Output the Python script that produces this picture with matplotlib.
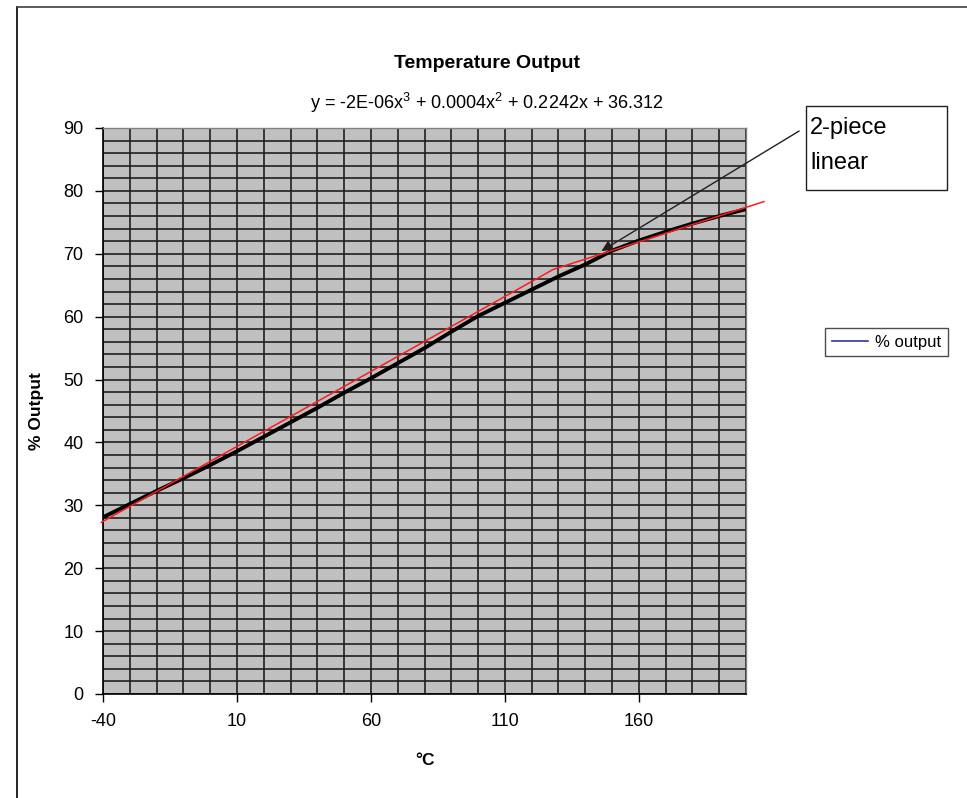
import matplotlib
matplotlib.use("Agg")
import matplotlib.pyplot as plt
from matplotlib.lines import Line2D
from matplotlib.ticker import MultipleLocator, FixedLocator

plt.rcParams['font.family'] = ['Liberation Sans', 'DejaVu Sans']
plt.rcParams['mathtext.fontset'] = 'custom'
plt.rcParams['mathtext.rm'] = 'Liberation Sans'
plt.rcParams['mathtext.it'] = 'Liberation Sans'
plt.rcParams['axes.unicode_minus'] = False

# Data
temp_c = [-40, -30, -20, -10, 0, 10, 20, 30, 40, 50, 60, 70, 80, 90, 100,
          110, 120, 130, 140, 150, 160, 170, 180, 190, 200]
pct_output = [28.1, 30.2, 32.3, 34.3, 36.4, 38.6, 40.9, 43.2, 45.5, 47.9, 50.2,
              52.6, 55.0, 57.6, 60.1, 62.2, 64.3, 66.4, 68.3, 70.5, 72.1, 73.5,
              74.8, 76.0, 77.1]
piece_x = [-40.6, 128.0, 206.7]
piece_y = [27.3, 67.5, 78.3]
x_ticks = [-40, 10, 60, 110, 160]
title = "Temperature Output"
equation = r"y = -2E-06x$^3$ + 0.0004x$^2$ + 0.2242x + 36.312"

W, H = 967, 798
fig = plt.figure(figsize=(W / 100, H / 100), dpi=100)
fig.patch.set_facecolor('white')

def fx(px):
    return px / W

def fy(py):
    return 1 - py / H

ax = fig.add_axes([fx(103), fy(694), fx(746) - fx(103), fy(128) - fy(694)])
ax.set_facecolor('#c0c0c0')
ax.set_xlim(-40, 200)
ax.set_ylim(0, 90)

# grid
ax.xaxis.set_major_locator(FixedLocator(x_ticks))
ax.xaxis.set_minor_locator(MultipleLocator(10))
ax.yaxis.set_major_locator(MultipleLocator(10))
ax.yaxis.set_minor_locator(MultipleLocator(2))
ax.grid(True, which='both', axis='x', color='#101010', linewidth=1.1)
ax.grid(True, which='both', axis='y', color='#202020', linewidth=1.2)
ax.set_axisbelow(True)
ax.tick_params(which='minor', length=0)
ax.tick_params(which='major', direction='out', length=6, width=1.0, color='black',
               labelsize=13, pad=8)

for s in ['left', 'bottom']:
    ax.spines[s].set_color('black')
    ax.spines[s].set_linewidth(1.2)
for s in ['top', 'right']:
    ax.spines[s].set_color('#808080')
    ax.spines[s].set_linewidth(1.0)

# data series
ax.plot(temp_c, pct_output, color='black', linewidth=2.8, solid_joinstyle='miter',
        zorder=3)
# two-piece linear approximation
ax.plot(piece_x, piece_y, color='#ff1a1a', linewidth=1.1, clip_on=False, zorder=4)

# arrow to the knee
tail_x = -40 + (797 - 103) / 2.671
tail_y = (694 - 131) / 6.289
tip_x = -40 + (600 - 103) / 2.671
tip_y = (694 - 251) / 6.289
ax.annotate('', xy=(tip_x, tip_y), xytext=(tail_x, tail_y),
            arrowprops=dict(arrowstyle='-|>', color='#202020', lw=1.0,
                            mutation_scale=16, shrinkA=0, shrinkB=0),
            annotation_clip=False, zorder=5)

ax.set_xlabel('°C', fontsize=12.5, fontweight='bold', labelpad=16)
ax.set_ylabel('% Output', fontsize=12.5, fontweight='bold', labelpad=14)

# titles
fig.text(fx(487), fy(63), title, ha='center', va='center', fontsize=14,
         fontweight='bold')
fig.text(fx(487), fy(103), equation, ha='center', va='center', fontsize=13)

# text box "2-piece linear"
box = plt.Rectangle((fx(806), fy(190)), fx(947) - fx(806), fy(106) - fy(190),
                    transform=fig.transFigure, facecolor='white',
                    edgecolor='#202020', linewidth=1.0)
fig.add_artist(box)
fig.text(fx(810), fy(128), '2-piece', ha='left', va='center', fontsize=17)
fig.text(fx(810), fy(163), 'linear', ha='left', va='center', fontsize=17)

# legend
handle = Line2D([0], [0], color='#333399', linewidth=1.2)
leg = fig.legend([handle], ['% output'], loc='upper left',
                 bbox_to_anchor=(fx(825), fy(328)), frameon=True, fancybox=False,
                 fontsize=12, handlelength=2.2, handletextpad=0.4,
                 borderpad=0.4, borderaxespad=0)
leg.get_frame().set_edgecolor('#202020')
leg.get_frame().set_linewidth(1.0)

# outer chart border
fig.add_artist(Line2D([fx(17), fx(17)], [fy(7), 0], color='black', linewidth=1.2,
                      transform=fig.transFigure))
fig.add_artist(Line2D([fx(17), 1], [fy(7), fy(7)], color='#404040', linewidth=1.2,
                      transform=fig.transFigure))

fig.savefig('out.png', dpi=100)
